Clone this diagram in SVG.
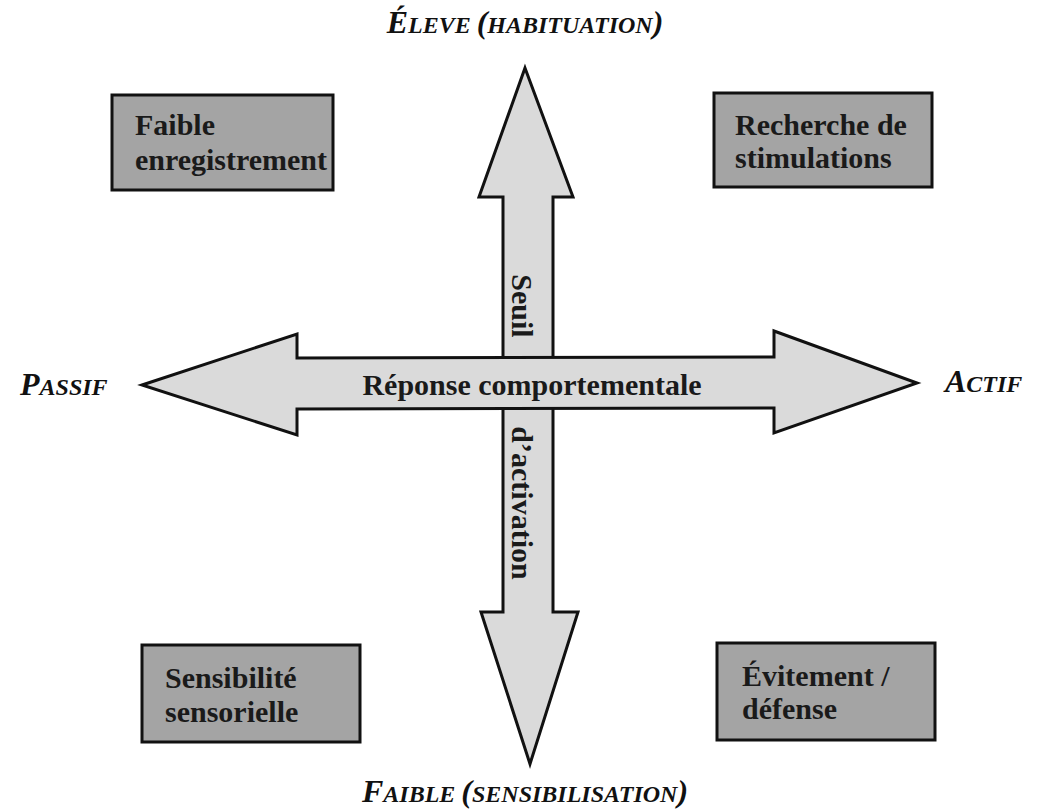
<svg xmlns="http://www.w3.org/2000/svg" width="1044" height="811" viewBox="0 0 1044 811">
<style>
.box{fill:#a4a4a4;stroke:#111;stroke-width:3}
.arrow{fill:#dadada;stroke:#111;stroke-width:3;stroke-linejoin:miter}
.bt{font-family:"Liberation Serif","Times New Roman",serif;font-weight:bold;font-size:30px;fill:#1a1a1a}
.ax{font-family:"Liberation Serif","Times New Roman",serif;font-weight:bold;font-style:italic;fill:#111}
.big{font-size:32px}
.sm{font-size:24px}
</style>
<rect width="1044" height="811" fill="#fff"/>
<g id="connectors">
<polygon id="axis-vertical" class="arrow" points="525,68 573,197 553,197 553,612 578,612 530,764 481,612 503,612 503,197 479,197"/>
<polygon id="axis-horizontal" class="arrow" points="142,385 297,334 297,358 774,357 774,331 917,383 774,433 774,408 297,409 297,435"/>
</g>
<g id="label-seuil">
<text class="bt" transform="translate(512,306) rotate(90)" text-anchor="middle" font-size="31">Seuil</text>
<text class="bt" transform="translate(512,503) rotate(90)" text-anchor="middle" font-size="29">d’activation</text>
</g>
<g id="label-reponse">
<text class="bt" x="532" y="395" text-anchor="middle" font-size="33">Réponse comportementale</text>
</g>
<g id="node-faible-enregistrement">
<rect class="box" x="112" y="95" width="221" height="95"/>
<text class="bt" x="135" y="135">Faible</text>
<text class="bt" x="135" y="170" textLength="192">enregistrement</text>
</g>
<g id="node-recherche-stimulations">
<rect class="box" x="714" y="93" width="218" height="94"/>
<text class="bt" x="735" y="135">Recherche de</text>
<text class="bt" x="735" y="168">stimulations</text>
</g>
<g id="node-sensibilite-sensorielle">
<rect class="box" x="142" y="645" width="218" height="97"/>
<text class="bt" x="165" y="688">Sensibilité</text>
<text class="bt" x="165" y="722">sensorielle</text>
</g>
<g id="node-evitement-defense">
<rect class="box" x="717" y="643" width="218" height="97"/>
<text class="bt" x="742" y="686">Évitement /</text>
<text class="bt" x="742" y="719">défense</text>
</g>
<g id="label-eleve">
<text class="ax" x="525" y="33" text-anchor="middle"><tspan class="big">É</tspan><tspan class="sm">LEVE </tspan><tspan class="big">(</tspan><tspan class="sm">HABITUATION</tspan><tspan class="big">)</tspan></text>
</g>
<g id="label-faible">
<text class="ax" x="525" y="802" text-anchor="middle"><tspan class="big">F</tspan><tspan class="sm">AIBLE </tspan><tspan class="big">(</tspan><tspan class="sm">SENSIBILISATION</tspan><tspan class="big">)</tspan></text>
</g>
<g id="label-passif">
<text class="ax" x="20" y="395"><tspan class="big">P</tspan><tspan class="sm">ASSIF</tspan></text>
</g>
<g id="label-actif">
<text class="ax" x="945" y="392"><tspan class="big">A</tspan><tspan class="sm">CTIF</tspan></text>
</g>
</svg>
